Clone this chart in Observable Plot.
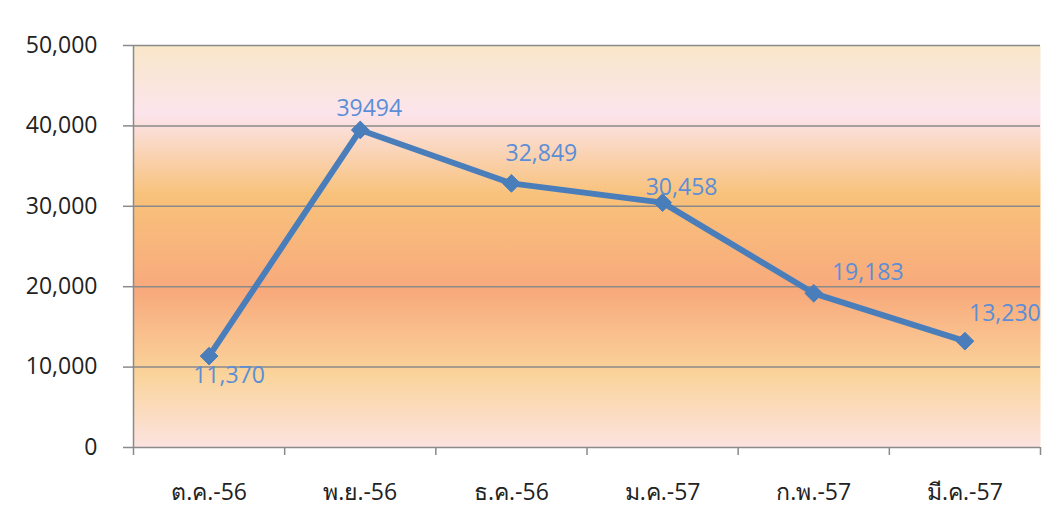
<!DOCTYPE html>
<html>
<head>
<meta charset="utf-8">
<script src="https://cdn.jsdelivr.net/npm/d3@7"></script>
<script src="https://cdn.jsdelivr.net/npm/@observablehq/plot@0.6"></script>
<style>
  html, body { margin: 0; padding: 0; background: #fff; }
  #chart svg {
    display: block;
    background:
      linear-gradient(to bottom, #f9e9cb 0%, #fce4ec 18%, #f9c47c 37%, #f9a97b 62%, #fbd49b 81%, #fde3e2 100%) 6px 7px / calc(100% - 6px) calc(100% - 7px) no-repeat,
      #ffffff;
  }
</style>
</head>
<body>
<div id="chart"></div>
<script>
const months = ["ต.ค.-56", "พ.ย.-56", "ธ.ค.-56", "ม.ค.-57", "ก.พ.-57", "มี.ค.-57"];
const values = [11370, 39494, 32849, 30458, 19183, 13230];
const valueLabels = ["11,370", "39494", "32,849", "30,458", "19,183", "13,230"];
const labelDx = [20, 9, 30, 19, 54, 40];
const labelDy = [20, -21, -30, -15, -21, -28];
const yTicks = [0, 10000, 20000, 30000, 40000, 50000];

const idx = months.map((_, i) => i);
const bounds = d3.range(-0.5, months.length, 1);
const font = "'Open Sans', 'Noto Sans', sans-serif";
const grid = "#8a8a8a";

const plot = Plot.plot({
  width: 1059,
  height: 530,
  marginLeft: 133,
  marginRight: 19,
  marginTop: 45,
  marginBottom: 83,
  style: { fontFamily: font, fontSize: "23px", color: "#222", background: "none" },
  x: { type: "linear", domain: [-0.5, months.length - 0.5], axis: null },
  y: { domain: [0, 50000], axis: null },
  marks: [
    Plot.frame({ fill: "url(#plotBg)", stroke: null }),
    Plot.ruleY(yTicks, { stroke: grid, strokeWidth: 1.5 }),
    Plot.ruleX([-0.5], { stroke: grid, strokeWidth: 1.5 }),
    Plot.axisY({ ticks: yTicks, tickSize: 10, tickPadding: 26, tickFormat: d3.format(","), stroke: grid, strokeWidth: 1.5, fill: "#222", fontSize: 23 }),
    Plot.axisX({ ticks: bounds, tickSize: 8, tickFormat: () => "", stroke: grid, strokeWidth: 1.5 }),
    Plot.axisX({ ticks: idx, tickSize: 0, tickPadding: 36, tickFormat: i => months[i], fill: "#222", fontSize: 23 }),
    Plot.line(idx, { x: i => i, y: i => values[i], stroke: "#4a7ebb", strokeWidth: 6, strokeLinejoin: "round" }),
    Plot.dot(idx, { x: i => i, y: i => values[i], symbol: "diamond2", r: 8, fill: "#4a7ebb", stroke: "#4a7ebb", strokeWidth: 1 }),
    ...idx.map(i => Plot.text([i], { x: d => d, y: d => values[d], text: d => valueLabels[d], dx: labelDx[i], dy: labelDy[i], fill: "#5b8ed6", fontSize: 23 }))
  ]
});

const svg = d3.select(plot);
const defs = svg.insert("defs", ":first-child");
const g = defs.append("linearGradient").attr("id", "plotBg").attr("x1", 0).attr("y1", 0).attr("x2", 0).attr("y2", 1);
[[0, "#f9e7c9"], [0.17, "#fce4ec"], [0.37, "#f8c27b"], [0.61, "#f8a97c"], [0.82, "#fad49b"], [1, "#fce3e1"]]
  .forEach(([o, c]) => g.append("stop").attr("offset", o).attr("stop-color", c));

document.getElementById("chart").appendChild(plot);
</script>
</body>
</html>
